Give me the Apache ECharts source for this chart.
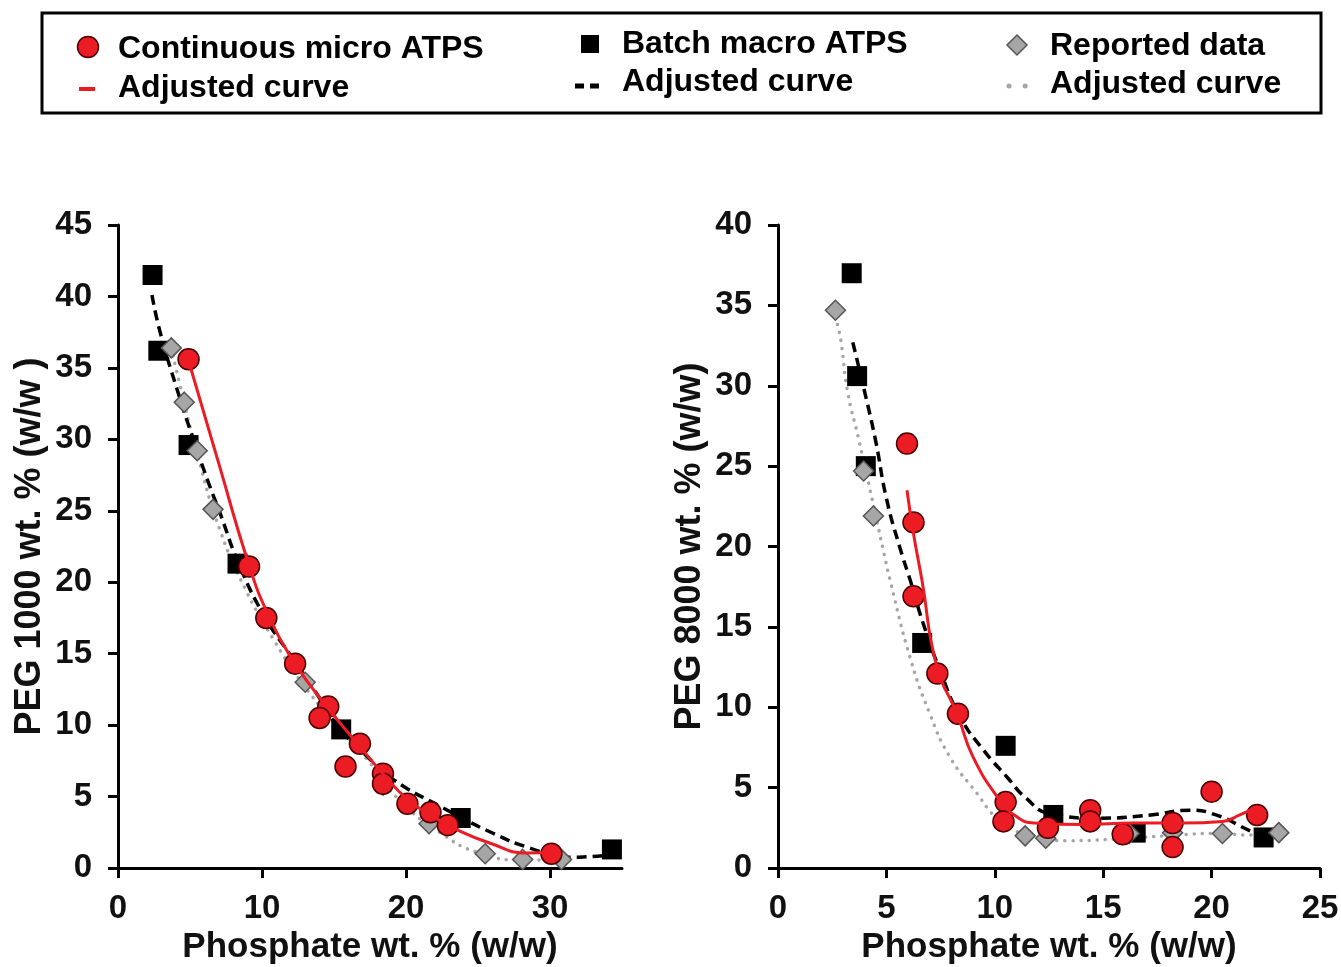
<!DOCTYPE html>
<html>
<head>
<meta charset="utf-8">
<script src="https://cdn.jsdelivr.net/npm/echarts@6/dist/echarts.min.js"></script>
<style>html,body{margin:0;padding:0;background:#fff}#c{width:1341px;height:967px}</style>
</head>
<body>
<div id="c"></div>
<script>
// ---------- Left panel: PEG 1000 ----------
var leftMicro = [[4.9,35.6],[9.1,21.1],[10.3,17.5],[12.3,14.3],[14.6,11.3],[14.0,10.5],[16.8,8.7],[15.8,7.1],[18.4,6.6],[18.4,5.9],[20.1,4.5],[21.7,3.9],[22.9,3.0],[30.1,1.0]];
var leftBatch = [[2.4,41.5],[2.8,36.2],[4.9,29.6],[8.3,21.3],[15.5,9.7],[23.8,3.5],[34.3,1.3]];
var leftReported = [[3.7,36.4],[4.6,32.6],[5.5,29.2],[6.6,25.1],[13.0,13.0],[18.4,5.8],[21.6,3.1],[25.5,1.0],[28.1,0.6],[30.8,0.6]];
var leftMicroCurve = [[4.9,35.5],[7.0,28.3],[9.1,21.2],[10.4,17.8],[12.3,14.3],[14.5,11.3],[16.8,8.5],[18.4,6.6],[20.1,4.8],[21.7,3.7],[23.5,2.7],[25.8,1.75],[28.4,1.05],[30.1,1.1]];
var leftBatchCurve = [[2.36,40.1],[2.9,37.6],[4.1,33.5],[5.1,30.4],[6.2,27.2],[7.1,24.8],[8.5,21.0],[10.3,17.4],[11.9,15.0],[13.8,12.2],[15.2,10.0],[17.3,7.8],[19.1,6.2],[22.4,4.3],[26.0,2.45],[28.6,1.4],[31.2,0.75],[32.8,0.8],[34.0,0.9]];
var leftReportedCurve = [[3.7,36.4],[4.3,33.8],[5.5,29.0],[7.1,23.6],[9.0,19.2],[10.8,16.0],[12.6,13.2],[15.0,10.2],[17.3,7.6],[19.4,4.9],[22.4,2.45],[25.1,1.05],[28.1,0.56],[30.7,0.56]];
var leftXTicks = [0,10,20,30];

// ---------- Right panel: PEG 8000 ----------
var rightMicro = [[5.95,26.4],[6.25,21.5],[6.25,16.9],[7.35,12.1],[8.3,9.6],[10.5,4.1],[10.4,2.9],[12.45,2.5],[14.4,3.6],[14.4,2.9],[15.9,2.1],[18.2,2.8],[18.2,1.3],[20.0,4.75],[22.1,3.3]];
var rightBatch = [[3.4,37.0],[3.65,30.6],[4.05,25.0],[6.65,14.0],[10.5,7.6],[12.7,3.3],[16.5,2.2],[22.4,1.9]];
var rightReported = [[2.65,34.7],[3.95,24.7],[4.4,21.9],[11.4,2.0],[12.35,1.85],[16.2,2.15],[18.2,2.2],[20.5,2.15],[23.1,2.2]];
var rightMicroCurve = [[5.95,23.5],[6.25,20.8],[6.64,17.9],[7.33,12.5],[8.26,9.6],[9.0,6.9],[10.24,4.2],[11.0,3.2],[11.8,2.8],[14.1,2.7],[16.4,2.8],[18.7,2.8],[20.5,2.9],[21.3,3.3],[22.1,3.8]];
var rightBatchCurve = [[3.45,32.7],[4.0,29.6],[4.5,26.6],[5.0,23.0],[5.65,19.8],[6.1,17.9],[6.7,15.2],[7.5,12.2],[8.4,9.4],[9.5,7.3],[10.6,5.6],[11.4,4.4],[12.5,3.4],[14.8,3.1],[17.2,3.3],[19.0,3.6],[20.2,3.3],[21.8,2.3],[22.7,1.8]];
var rightReportedCurve = [[2.65,34.3],[2.9,32.8],[3.2,29.7],[3.7,26.8],[4.25,23.5],[4.85,19.8],[5.17,17.9],[6.09,13.1],[7.0,9.6],[7.93,6.9],[9.2,4.6],[10.0,3.2],[10.8,2.4],[12.2,1.85],[13.3,1.7],[15.6,1.8],[17.9,2.0],[20.2,2.15],[21.8,2.05],[23.2,2.2]];

var legendLabels = ['Continuous micro ATPS','Adjusted curve','Batch macro ATPS','Adjusted curve','Reported data','Adjusted curve'];
var xName = 'Phosphate wt. % (w/w)';
var yNameLeft = 'PEG 1000 wt. % (w/w )';
var yNameRight = 'PEG 8000 wt. % (w/w)';

var FONT = '"Liberation Sans", Arial, Helvetica, sans-serif';
var RED = '#ec1c24';
var GRAY = '#a6a6a6';

function xAxisCfg(idx, max, interval, custom){
  var a = {
    type:'value', gridIndex: idx, min:0, max:max, interval:interval,
    name: xName, nameLocation:'middle', nameGap:62,
    nameTextStyle:{fontFamily:FONT, fontWeight:'bold', fontSize:35, color:'#111'},
    axisLine:{show:true, onZero:false, lineStyle:{color:'#000', width:3}},
    axisTick:{show:true, inside:false, length:10, lineStyle:{color:'#000', width:3}},
    axisLabel:{fontFamily:FONT, fontWeight:'bold', fontSize:33, color:'#111', margin:24},
    splitLine:{show:false}
  };
  if (custom){ a.axisTick.customValues = custom; a.axisLabel.customValues = custom; }
  return a;
}
function yAxisCfg(idx, max, name){
  return {
    type:'value', gridIndex: idx, min:0, max:max, interval:5,
    name: name, nameLocation:'middle', nameGap:70, nameRotate:90,
    nameTextStyle:{fontFamily:FONT, fontWeight:'bold', fontSize:36, color:'#111'},
    axisLine:{show:true, onZero:false, lineStyle:{color:'#000', width:3}},
    axisTick:{show:true, inside:false, length:10, lineStyle:{color:'#000', width:3}},
    axisLabel:{fontFamily:FONT, fontWeight:'bold', fontSize:33, color:'#111', margin:26},
    splitLine:{show:false}
  };
}
function curves(xi, yi, blackC, grayC){
  return [
    {type:'line', xAxisIndex:xi, yAxisIndex:yi, data:grayC, smooth:0.5, showSymbol:false, z:2,
     lineStyle:{color:GRAY, width:3.5, type:[0.1,8], cap:'round'}},
    {type:'line', xAxisIndex:xi, yAxisIndex:yi, data:blackC, smooth:0.5, showSymbol:false, z:3,
     lineStyle:{color:'#000', width:3.5, type:[10,6]}}
  ];
}
function marks(xi, yi, micro, batch, reported, redC){
  return [
    {type:'scatter', xAxisIndex:xi, yAxisIndex:yi, data:batch, symbol:'rect', symbolSize:20, z:4,
     itemStyle:{color:'#000', opacity:1}},
    {type:'scatter', xAxisIndex:xi, yAxisIndex:yi, data:reported, symbol:'diamond', symbolSize:20, z:5,
     itemStyle:{color:GRAY, borderColor:'#555', borderWidth:1.5, opacity:1}},
    {type:'scatter', xAxisIndex:xi, yAxisIndex:yi, data:micro, symbol:'circle', symbolSize:21, z:6,
     itemStyle:{color:RED, borderColor:'#4a0000', borderWidth:1.5, opacity:1}},
    {type:'line', xAxisIndex:xi, yAxisIndex:yi, data:redC, smooth:0.5, showSymbol:false, z:7,
     lineStyle:{color:RED, width:3}}
  ];
}

var series = [].concat(
  curves(0,0,leftBatchCurve,leftReportedCurve),
  marks(0,0,leftMicro,leftBatch,leftReported,leftMicroCurve),
  curves(1,1,rightBatchCurve,rightReportedCurve),
  marks(1,1,rightMicro,rightBatch,rightReported,rightMicroCurve)
);

var tStyle = function(txt, x, y){
  return {type:'text', x:x, y:y, z:100, style:{text:txt, fill:'#000', font:'bold 32px '+FONT, textVerticalAlign:'middle', verticalAlign:'middle'}};
};

var graphic = [
  {type:'rect', shape:{x:42, y:13, width:1279, height:100}, style:{fill:'#fff', stroke:'#000', lineWidth:3}, z:90},
  {type:'circle', shape:{cx:88, cy:47, r:10.5}, style:{fill:RED, stroke:'#4a0000', lineWidth:1.5}, z:100},
  tStyle(legendLabels[0], 118, 49),
  {type:'line', shape:{x1:79, y1:89, x2:95, y2:89}, style:{stroke:RED, lineWidth:4}, z:100},
  tStyle(legendLabels[1], 118, 88),
  {type:'rect', shape:{x:581, y:35, width:18, height:18}, style:{fill:'#000'}, z:100},
  tStyle(legendLabels[2], 622, 44),
  {type:'line', shape:{x1:575, y1:86, x2:605, y2:86}, style:{stroke:'#000', lineWidth:5, lineDash:[9,6]}, z:100},
  tStyle(legendLabels[3], 622, 82),
  {type:'polygon', shape:{points:[[1017,35],[1027,45],[1017,55],[1007,45]]}, style:{fill:GRAY, stroke:'#555', lineWidth:1.5}, z:100},
  tStyle(legendLabels[4], 1050, 46),
  {type:'line', shape:{x1:1009, y1:86, x2:1027, y2:86}, style:{stroke:GRAY, lineWidth:5, lineDash:[0.1,16], lineCap:'round'}, z:100},
  tStyle(legendLabels[5], 1050, 84)
];

var chart = echarts.init(document.getElementById('c'), null, {renderer:'canvas'});
chart.setOption({
  animation:false,
  backgroundColor:'#fff',
  grid:[
    {left:118, top:225, width:504, height:643, containLabel:false, outerBoundsMode:'none'},
    {left:778, top:225, width:542, height:643, containLabel:false, outerBoundsMode:'none'}
  ],
  xAxis:[ xAxisCfg(0, 35, 10, leftXTicks), xAxisCfg(1, 25, 5, null) ],
  yAxis:[ yAxisCfg(0, 45, yNameLeft), yAxisCfg(1, 40, yNameRight) ],
  series: series,
  graphic: graphic
});
</script>
</body>
</html>
